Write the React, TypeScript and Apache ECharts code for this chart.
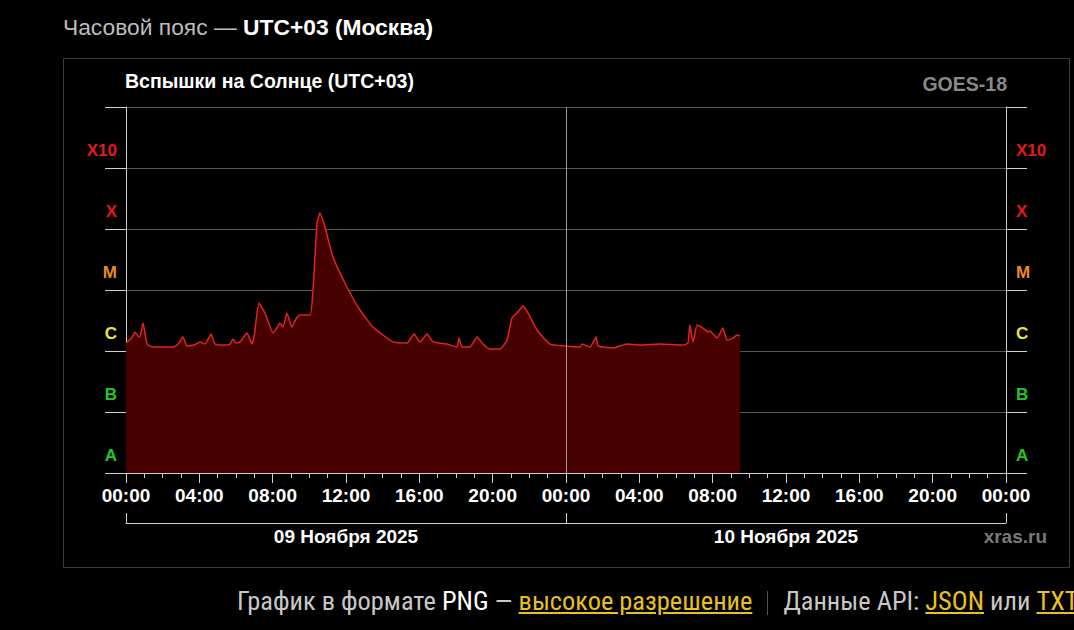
import React, { useEffect, useRef } from "react";
import * as echarts from "echarts";

// hours since 09 Nov 2025 00:00 (UTC+03)
const hours = [
  0, 0.3, 0.49, 0.65, 0.76, 0.93, 1.15, 1.47, 2.0, 2.56, 2.84, 3.11, 3.33, 3.7, 4.04, 4.3, 4.64, 4.85,
  5.3, 5.67, 5.84, 6.0, 6.22, 6.6, 6.87, 7.0, 7.25, 7.58, 8.02, 8.2, 8.4, 8.56, 8.78, 9.05, 9.3, 9.49,
  10.04, 10.2, 10.42, 10.58, 10.85, 11.29, 12.05, 12.76, 13.47, 14.02, 14.56, 15.33, 15.71, 16.04,
  16.42, 16.75, 17.51, 18.05, 18.16, 18.33, 18.76, 19.15, 19.47, 19.85, 20.4, 20.78, 21.05, 21.33,
  21.65, 21.93, 22.42, 23.13, 23.95, 24.76, 24.87, 25.31, 25.64, 25.75, 26.56, 27.33, 28.04, 29.13,
  30.38, 30.65, 30.76, 30.93, 31.15, 31.47, 31.75, 31.85, 32.24, 32.56, 32.78, 33.11, 33.33, 33.49,
];

// X-ray flux, W/m²
const flux = [
  1.35e-6, 1.63e-6, 2.05e-6, 1.76e-6, 1.7e-6, 2.88e-6, 1.3e-6, 1.16e-6, 1.16e-6, 1.16e-6, 1.3e-6, 1.7e-6,
  1.21e-6, 1.25e-6, 1.41e-6, 1.3e-6, 1.9e-6, 1.3e-6, 1.25e-6, 1.3e-6, 1.57e-6, 1.35e-6, 1.41e-6, 1.97e-6,
  1.3e-6, 1.83e-6, 6.12e-6, 4.2e-6, 1.97e-6, 2.3e-6, 2.88e-6, 2.47e-6, 4.2e-6, 2.47e-6, 3.47e-6, 3.89e-6,
  3.89e-6, 1.0e-5, 1.25e-4, 1.83e-4, 1.08e-4, 3.47e-5, 1.12e-5, 4.7e-6, 2.47e-6, 1.83e-6, 1.41e-6, 1.35e-6,
  1.9e-6, 1.41e-6, 1.9e-6, 1.41e-6, 1.3e-6, 1.16e-6, 1.63e-6, 1.16e-6, 1.16e-6, 1.7e-6, 1.3e-6, 1.08e-6,
  1.08e-6, 1.51e-6, 3.47e-6, 4.2e-6, 5.47e-6, 4.2e-6, 2.21e-6, 1.3e-6, 1.21e-6, 1.16e-6, 1.3e-6, 1.16e-6,
  1.7e-6, 1.21e-6, 1.12e-6, 1.3e-6, 1.25e-6, 1.3e-6, 1.25e-6, 1.35e-6, 2.67e-6, 1.41e-6, 2.67e-6, 2.38e-6,
  2.05e-6, 2.13e-6, 1.63e-6, 2.38e-6, 1.51e-6, 1.63e-6, 1.83e-6, 1.76e-6,
];

const classExponents = [-8, -7, -6, -5, -4, -3];
const classLabels = ["A", "B", "C", "M", "X", "X10"];
const classColors = ["#25c425", "#25c425", "#e8e83a", "#e88c22", "#e01b1b", "#e01b1b"];
const dayLabels = ["09 Ноября 2025", "10 Ноября 2025"];
const dayTicks = [0, 24, 48];
const dayLabelPositions = [12, 36];

const FONT = '"Liberation Sans", Arial, Helvetica, sans-serif';
const NARROW = '"Liberation Sans Narrow", "Arial Narrow", "Roboto Condensed", "DejaVu Sans Condensed", sans-serif';

function classIndex(v: number): number {
  return classExponents.indexOf(Math.round(Math.log10(v)));
}

function yAxisFor(position: "left" | "right", margin: number) {
  return {
    type: "log",
    logBase: 10,
    min: 1e-8,
    max: 1e-2,
    splitNumber: 6,
    position,
    axisLine: { show: true, onZero: false, lineStyle: { color: "#cfcfcf", width: 1 } },
    axisTick: { show: true, inside: false, length: 21, lineStyle: { color: "#cfcfcf", width: 1 } },
    splitLine: { show: true, lineStyle: { color: "#555", width: 1 } },
    minorTick: { show: false },
    minorSplitLine: { show: false },
    axisLabel: {
      show: true,
      margin,
      fontFamily: FONT,
      fontWeight: "bold",
      fontSize: 17,
      verticalAlign: "bottom",
      padding: [0, 0, 9, 0],
      formatter: (v: number) => {
        const i = classIndex(v);
        return i >= 0 ? classLabels[i] : "";
      },
      color: (v: any) => {
        const i = classIndex(Number(v));
        return i >= 0 ? classColors[i] : "#fff";
      },
    },
  };
}

export default function App() {
  const ref = useRef<HTMLDivElement>(null);

  useEffect(() => {
    if (!ref.current) return;
    const chart = echarts.init(ref.current, null, { renderer: "svg" });
    const option: any = {
      animation: false,
      backgroundColor: "#000",
      grid: { left: 126, top: 107, width: 880, height: 366 },
      xAxis: [
        {
          type: "value",
          min: 0,
          max: 48,
          interval: 4,
          position: "bottom",
          axisLine: { show: true, onZero: false, lineStyle: { color: "#cfcfcf", width: 1 } },
          axisTick: { show: true, length: 10, lineStyle: { color: "#cfcfcf", width: 1 } },
          minorTick: { show: true, splitNumber: 4, length: 5, lineStyle: { color: "#cfcfcf", width: 1 } },
          splitLine: { show: false },
          axisLabel: {
            margin: 13,
            color: "#ffffff",
            fontFamily: FONT,
            fontWeight: "bold",
            fontSize: 19,
            formatter: (v: number) => String(v % 24).padStart(2, "0") + ":00",
          },
        },
        {
          type: "value",
          min: 0,
          max: 48,
          position: "bottom",
          offset: 50,
          axisLine: { show: true, onZero: false, lineStyle: { color: "#cfcfcf", width: 1 } },
          axisTick: { show: true, inside: true, length: 10, customValues: dayTicks, lineStyle: { color: "#cfcfcf", width: 1 } },
          splitLine: { show: false },
          axisLabel: {
            show: true,
            customValues: dayLabelPositions,
            margin: 4,
            color: "#ffffff",
            fontFamily: FONT,
            fontWeight: "bold",
            fontSize: 19,
            formatter: (v: number) => dayLabels[Math.floor(v / 24)] ?? "",
          },
        },
      ],
      yAxis: [yAxisFor("left", 9), yAxisFor("right", 10)],
      series: [
        {
          type: "line",
          xAxisIndex: 0,
          yAxisIndex: 0,
          data: hours.map((h, i) => [h, flux[i]]),
          showSymbol: false,
          smooth: 0.15,
          lineStyle: { color: "#e02424", width: 1.5 },
          areaStyle: { color: "#460000", opacity: 1, origin: "start" },
          markLine: {
            silent: true,
            symbol: ["none", "none"],
            label: { show: false },
            lineStyle: { color: "#9a9a9a", type: "solid", width: 1 },
            data: [{ xAxis: 24 }],
          },
        },
      ],
      graphic: [
        {
          type: "rect",
          shape: { x: 63.5, y: 58.5, width: 1006, height: 509 },
          style: { fill: "none", stroke: "#3c3c3c", lineWidth: 1 },
          silent: true,
        },
        {
          type: "text",
          x: 125,
          y: 81,
          style: {
            text: "Вспышки на Солнце (UTC+03)",
            fill: "#ffffff",
            font: `bold 19.5px ${FONT}`,
            verticalAlign: "middle",
            align: "left",
          },
        },
        {
          type: "text",
          x: 1007,
          y: 84,
          style: {
            text: "GOES-18",
            fill: "#8a8a8a",
            font: `bold 19.5px ${FONT}`,
            verticalAlign: "middle",
            align: "right",
          },
        },
        {
          type: "text",
          x: 1047,
          y: 536,
          style: {
            text: "xras.ru",
            fill: "#7a7a7a",
            font: `bold 19px ${FONT}`,
            verticalAlign: "middle",
            align: "right",
          },
        },
      ],
    };
    chart.setOption(option);
    return () => chart.dispose();
  }, []);

  return (
    <div style={{ position: "fixed", left: 0, top: 0, width: 1074, height: 630, background: "#000", overflow: "hidden" }}>
      <div ref={ref} style={{ position: "absolute", left: 0, top: 0, width: 1074, height: 630 }} />
      <div
        style={{
          position: "absolute",
          left: 63,
          top: 13,
          fontFamily: FONT,
          fontSize: 22.8,
          lineHeight: "28px",
          color: "#bdbdbd",
          whiteSpace: "nowrap",
        }}
      >
        Часовой пояс — <span style={{ color: "#fff", fontWeight: "bold" }}>UTC+03 (Москва)</span>
      </div>
      <div
        style={{
          position: "absolute",
          left: 237,
          top: 586,
          fontFamily: NARROW,
          fontStretch: "condensed",
          fontSize: 26.4,
          lineHeight: "30px",
          color: "#c8c8c8",
          whiteSpace: "nowrap",
        }}
      >
        График в формате <span style={{ color: "#fff" }}>PNG</span> —{" "}
        <span style={{ color: "#e8c21e", textDecoration: "underline" }}>высокое разрешение</span>
        <span style={{ display: "inline-block", width: 1, height: 24, background: "#555", margin: "0 15px", verticalAlign: "middle" }} />
        Данные API: <span style={{ color: "#e8c21e", textDecoration: "underline" }}>JSON</span> или{" "}
        <span style={{ color: "#e8c21e", textDecoration: "underline" }}>TXT</span>
      </div>
    </div>
  );
}
